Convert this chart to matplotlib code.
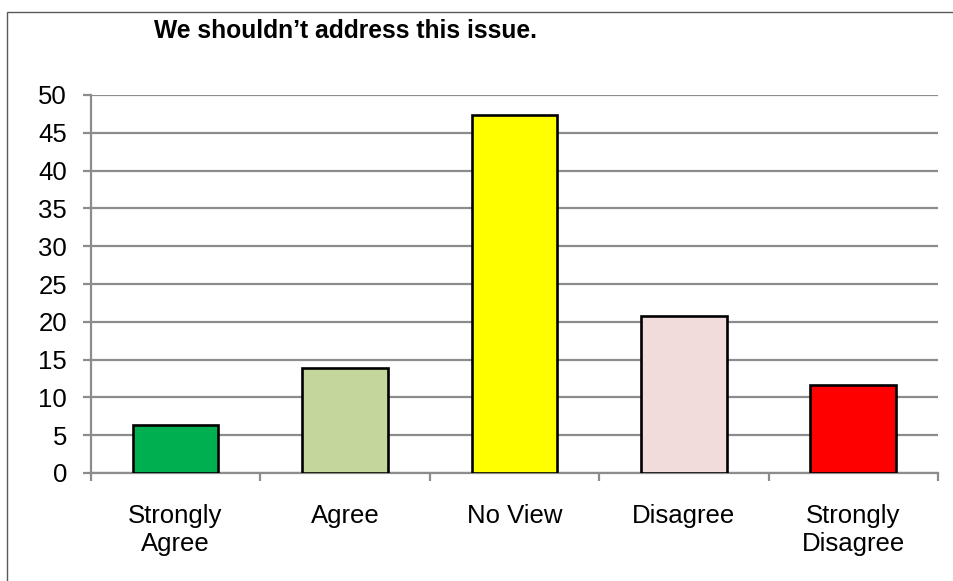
import matplotlib
matplotlib.use("Agg")
import matplotlib.pyplot as plt
from matplotlib.patches import Rectangle

categories = ["Strongly\nAgree", "Agree", "No View", "Disagree", "Strongly\nDisagree"]
values = [6.3, 13.9, 47.4, 20.8, 11.6]
colors = ["#00B050", "#C3D69B", "#FFFF00", "#F2DCDB", "#FF0000"]
yticks = [0, 5, 10, 15, 20, 25, 30, 35, 40, 45, 50]
title = "We shouldn\u2019t address this issue."

plt.rcParams['font.family'] = ['Liberation Sans', 'DejaVu Sans']

W, H = 954, 581
fig = plt.figure(figsize=(W / 100, H / 100), dpi=100)
ax = fig.add_axes([90.7 / W, 1 - 473 / H, (938 - 90.7) / W, (473 - 95) / H])

x = list(range(len(categories)))
ax.bar(x, values, width=0.505, color=colors, edgecolor="black", linewidth=1.9, zorder=3)

ax.set_xlim(-0.5, len(categories) - 0.5)
ax.set_ylim(0, 50)
ax.set_yticks(yticks)
ax.set_yticklabels([str(v) for v in yticks], fontsize=18.5)
ax.set_xticks(x)
ax.set_xticklabels(categories, fontsize=18.5, linespacing=1.22)
ax.set_xticks([i - 0.5 for i in range(len(categories) + 1)], minor=True)

grid_c = "#8c8c8c"
ax.yaxis.grid(True, color=grid_c, linewidth=1.6, zorder=0)
ax.set_axisbelow(True)
for s in ["top", "right"]:
    ax.spines[s].set_visible(False)
for s in ["left", "bottom"]:
    ax.spines[s].set_color(grid_c)
    ax.spines[s].set_linewidth(1.6)

ax.tick_params(axis="y", length=6, width=1.6, color=grid_c, pad=11, labelcolor="black")
ax.tick_params(axis="x", which="major", length=0, pad=22, labelcolor="black")
ax.tick_params(axis="x", which="minor", length=6, width=1.6, color=grid_c)

fig.text(346 / W, 1 - 31 / H, title, fontsize=17.7, fontweight="bold",
         ha="center", va="center", color="black")

border = Rectangle((7 / W, -0.05), 1.0, 1 - 12 / H + 0.05, transform=fig.transFigure,
                   fill=False, edgecolor="#595959", linewidth=1.0)
fig.patches.append(border)

fig.savefig("out.png", dpi=100)
